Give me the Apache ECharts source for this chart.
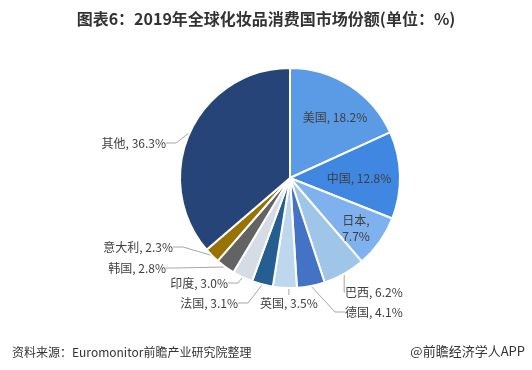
<!DOCTYPE html>
<html><head><meta charset="utf-8">
<script src="https://cdn.jsdelivr.net/npm/echarts@6/dist/echarts.min.js"></script>
<style>html,body{margin:0;padding:0;background:#fff}#c{width:532px;height:370px}</style>
</head><body><div id="c"></div>
<script>
const categories = ['美国','中国','日本','巴西','德国','英国','法国','印度','韩国','意大利','其他'];
const shares = [18.2,12.8,7.7,6.2,4.1,3.5,3.1,3.0,2.8,2.3,36.3];
const colors = ['#5b9be6','#3f87e0','#7fb1ee','#9fc5e8','#4472c4','#bdd7ee','#255e91','#d6dce5','#636363','#997300','#264478'];
const insideNames = ['美国','中国','日本'];
// label anchor positions (x, y, align)
const labelPos = {
  '美国':[335,117,'center'], '中国':[359,178,'center'], '日本':[356,228,'center'],
  '巴西':[345,292,'left'], '德国':[345,312,'left'], '英国':[260,303,'left'],
  '法国':[238,303,'right'], '印度':[228,283,'right'], '韩国':[166,268,'right'],
  '意大利':[173,247,'right'], '其他':[166,143,'right']
};
const chart = echarts.init(document.getElementById('c'), null, {renderer:'canvas'});
const font = '"Noto Sans CJK SC","Microsoft YaHei",sans-serif';
chart.setOption({
  animation:false,
  title:[{text:'图表6：2019年全球化妆品消费国市场份额(单位：%)', left:'center', top:6,
    textStyle:{fontFamily:font, fontSize:16, fontWeight:'bold', color:'#333'}},
   {text:'资料来源：Euromonitor前瞻产业研究院整理', left:7, top:341,
    textStyle:{fontFamily:font, fontSize:12, fontWeight:'normal', color:'#333'}},
   {text:'@前瞻经济学人APP', right:2, top:340,
    textStyle:{fontFamily:font, fontSize:13, fontWeight:'normal', color:'#333'}}],
  series:[{
    type:'pie', center:[290,178], radius:110, startAngle:90, clockwise:true,
    itemStyle:{borderColor:'#fff', borderWidth:2},
    label:{fontFamily:font, fontSize:12, color:'#404040', lineHeight:16,
      formatter: p => p.name==='日本' ? p.name+',\n'+p.value.toFixed(1)+'%' : p.name+', '+p.value.toFixed(1)+'%'},
    labelLine:{show:true, length:10, length2:10, lineStyle:{color:'#a6a6a6', width:1}},
    labelLayout: function(params){
      const n = categories[params.dataIndex];
      const p = labelPos[n];
      return {x:p[0], y:p[1], align:p[2], verticalAlign:'middle'};
    },
    data: categories.map((c,i)=>{
      const d = {name:c, value:shares[i], itemStyle:{color:colors[i]}};
      if (insideNames.indexOf(c)>=0) { d.label={position:'inside'}; d.labelLine={show:false}; }
      return d;
    })
  }]
});
</script></body></html>
